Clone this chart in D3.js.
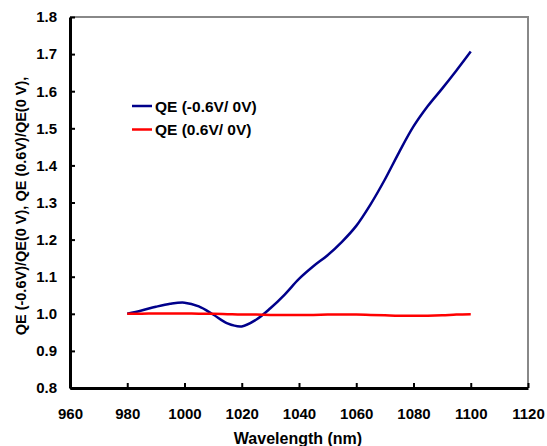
<!DOCTYPE html>
<html>
<head>
<meta charset="utf-8">
<script src="https://cdn.jsdelivr.net/npm/d3@7"></script>
<style>
  body { margin: 0; background: #fff; }
  text { font-family: "Liberation Sans", Arial, sans-serif; font-weight: bold; }
</style>
</head>
<body>
<div class="chart"></div>
<script>
// wavelength (nm)
const wavelength = [980, 985, 990, 995, 1000, 1005, 1010, 1015, 1020, 1025, 1030, 1035, 1040,
                    1045, 1050, 1055, 1060, 1065, 1070, 1075, 1080, 1085, 1090, 1095, 1100];
// QE(-0.6V)/QE(0V)
const qeNeg = [1.000, 1.009, 1.019, 1.027, 1.030, 1.020, 0.998, 0.974, 0.966, 0.984, 1.015, 1.052, 1.094,
               1.128, 1.158, 1.194, 1.237, 1.295, 1.362, 1.436, 1.505, 1.560, 1.607, 1.656, 1.707];
// QE(0.6V)/QE(0V)
const qePos = [1.000, 1.000, 1.001, 1.001, 1.001, 1.000, 1.000, 0.999, 0.998, 0.998, 0.997, 0.997, 0.997,
               0.997, 0.998, 0.998, 0.998, 0.997, 0.996, 0.995, 0.995, 0.995, 0.996, 0.998, 0.999];

const xTicks = [960, 980, 1000, 1020, 1040, 1060, 1080, 1100, 1120];
const yTicks = [0.8, 0.9, 1.0, 1.1, 1.2, 1.3, 1.4, 1.5, 1.6, 1.7, 1.8];

const series = [
    { name: "QE (-0.6V/ 0V)", values: qeNeg, color: "#00008b" },
    { name: "QE (0.6V/ 0V)", values: qePos, color: "#ff0000" }
];

const margin = { top: 17, bottom: 58, left: 70, right: 19 };
const svgWidth = 547, svgHeight = 446;
const width = svgWidth - margin.left - margin.right;
const height = svgHeight - margin.top - margin.bottom;

const svg = d3.select('div.chart')
    .append('svg')
    .attr('width', svgWidth)
    .attr('height', svgHeight);

const chart = svg.append('g')
    .attr('transform', 'translate(' + margin.left + ',' + margin.top + ')');

const x = d3.scaleLinear().domain([960, 1120]).range([0, width]);
const y = d3.scaleLinear().domain([0.8, 1.8]).range([height, 0]);

// gray top/right frame
chart.append('path')
    .attr('d', 'M0,0H' + width + 'V' + height)
    .attr('fill', 'none')
    .attr('stroke', '#888')
    .attr('stroke-width', 2);

// axes, ticks pointing inward
const xAxis = d3.axisBottom(x).tickValues(xTicks).tickSizeInner(-5).tickSizeOuter(0).tickPadding(20).tickFormat(d3.format('d'));
const yAxis = d3.axisLeft(y).tickValues(yTicks).tickSizeInner(-5).tickSizeOuter(0).tickPadding(13).tickFormat(d3.format('.1f'));

const gx = chart.append('g')
    .attr('transform', 'translate(0,' + height + ')')
    .call(xAxis);
const gy = chart.append('g').call(yAxis);

[gx, gy].forEach(function (g) {
    g.select('.domain').attr('stroke', '#000').attr('stroke-width', 3);
    g.selectAll('.tick line').attr('stroke', '#000').attr('stroke-width', 2);
    g.selectAll('.tick text').style('font-size', '15px').attr('fill', '#000');
});

// lines
const line = d3.line()
    .x(function (d, i) { return x(wavelength[i]); })
    .y(function (d) { return y(d); })
    .curve(d3.curveCatmullRom);

series.forEach(function (s) {
    chart.append('path')
        .attr('d', line(s.values))
        .attr('fill', 'none')
        .attr('stroke', s.color)
        .attr('stroke-width', 2.5);
});

// legend
const legend = chart.append('g').attr('transform', 'translate(62,89)');
series.forEach(function (s, i) {
    legend.append('line')
        .attr('x1', 0).attr('x2', 20)
        .attr('y1', i * 23.5).attr('y2', i * 23.5)
        .attr('stroke', s.color)
        .attr('stroke-width', 2.5);
    legend.append('text')
        .attr('x', 23).attr('y', i * 23.5 + 5.5)
        .style('font-size', '15.5px')
        .text(s.name);
});

// axis titles
svg.append('text')
    .attr('x', 298)
    .attr('y', 444)
    .attr('text-anchor', 'middle')
    .style('font-size', '16px')
    .text('Wavelength (nm)');

svg.append('text')
    .attr('transform', 'translate(26,206) rotate(-90)')
    .attr('text-anchor', 'middle')
    .style('font-size', '14.5px')
    .text('QE (-0.6V)/QE(0 V), QE (0.6V)/QE(0 V),');
</script>
</body>
</html>
